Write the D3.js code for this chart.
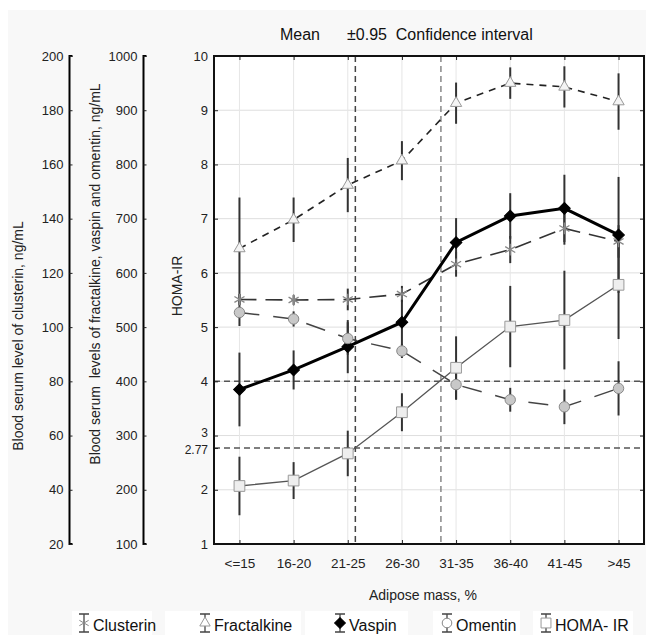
<!DOCTYPE html>
<html>
<head>
<meta charset="utf-8">
<script src="https://cdn.jsdelivr.net/npm/d3@7"></script>
<style>
  body { margin: 0; background: #fff; }
  svg { display: block; font-family: "Liberation Sans", Arial, sans-serif; }
</style>
</head>
<body>
<svg id="chart" width="646" height="635"></svg>
<script>
// adipose mass groups
let categories = ['<=15', '16-20', '21-25', '26-30', '31-35', '36-40', '41-45', '>45'];

// means and ±0.95 CI half widths
let clusterin = [110.2, 110, 110.2, 112.2, 123.2, 128.6, 136.4, 131.6];
let clusterinCI = [2, 1.8, 4, 3, 4.6, 5, 6, 6];
let fractalkine = [645, 698, 762, 807, 913, 950, 943, 916];
let fractalkineCI = [94, 41, 50, 36, 38, 29, 38, 52];
let vaspin = [385, 421, 464, 509, 656, 705, 719, 670];
let vaspinCI = [68, 36, 49, 42, 45, 42, 62, 107];
let omentin = [527, 515, 479, 456, 394, 366, 353, 387];
let omentinCI = [25, 14, 30, 13, 28, 22, 32, 50];
let homa = [2.07, 2.17, 2.67, 3.43, 4.25, 5.01, 5.13, 5.78];
let homaCI = [0.54, 0.34, 0.42, 0.35, 0.58, 0.75, 0.91, 1.0];

// reference lines (HOMA-IR level, position in category steps)
let refHoma = [4, 2.77];
let refCuts = [2.14, 3.72];

let clusterinTicks = [20, 40, 60, 80, 100, 120, 140, 160, 180, 200];
let concTicks = [100, 200, 300, 400, 500, 600, 700, 800, 900, 1000];
let homaTicks = [1, 2, 2.77, 3, 4, 5, 6, 7, 8, 9, 10];

let svg = d3.select('#chart');

let plot = {l: 214, r: 644, t: 56, b: 544};

let x = d3.scalePoint()
    .domain(categories)
    .range([plot.l, plot.r])
    .padding(0.47);

let yHoma = d3.scaleLinear().domain([1, 10]).range([plot.b, plot.t]);
let yClu = d3.scaleLinear().domain([20, 200]).range([plot.b, plot.t]);
let yConc = d3.scaleLinear().domain([100, 1000]).range([plot.b, plot.t]);

// backdrop
svg.append('rect').attr('x', 8).attr('y', 10).attr('width', 638).attr('height', 625).attr('fill', '#f8f8f8');
svg.append('rect')
    .attr('x', plot.l).attr('y', plot.t)
    .attr('width', plot.r - plot.l).attr('height', plot.b - plot.t)
    .attr('fill', '#fff');

// grid
svg.append('g')
    .selectAll('line')
    .data(d3.range(2, 10))
    .join('line')
    .attr('x1', plot.l).attr('x2', plot.r)
    .attr('y1', d => yHoma(d)).attr('y2', d => yHoma(d))
    .attr('stroke', '#dedede');
svg.append('g')
    .selectAll('line')
    .data(categories)
    .join('line')
    .attr('x1', d => x(d)).attr('x2', d => x(d))
    .attr('y1', plot.t).attr('y2', plot.b)
    .attr('stroke', '#e6e6e6');

// reference lines
svg.append('g')
    .selectAll('line')
    .data(refHoma)
    .join('line')
    .attr('x1', plot.l).attr('x2', plot.r)
    .attr('y1', d => yHoma(d)).attr('y2', d => yHoma(d))
    .attr('stroke', '#555').attr('stroke-width', 1.5)
    .attr('stroke-dasharray', '6,4');
svg.append('g')
    .selectAll('line')
    .data(refCuts)
    .join('line')
    .attr('x1', d => x(categories[0]) + d * x.step())
    .attr('x2', d => x(categories[0]) + d * x.step())
    .attr('y1', plot.t).attr('y2', plot.b)
    .attr('stroke', d => d < 3 ? '#444' : '#888').attr('stroke-width', 1.5)
    .attr('stroke-dasharray', '6,4');

// series
let series = [
    {name: 'Clusterin', mean: clusterin, ci: clusterinCI, y: yClu, marker: 'star',
     line: '#333', width: 1.6, dash: '17,9', fill: 'none', stroke: '#888'},
    {name: 'Fractalkine', mean: fractalkine, ci: fractalkineCI, y: yConc, marker: 'triangle',
     line: '#222', width: 1.6, dash: '7,6', fill: '#f4f4f4', stroke: '#999'},
    {name: 'Vaspin', mean: vaspin, ci: vaspinCI, y: yConc, marker: 'diamond',
     line: '#000', width: 3, dash: null, fill: '#000', stroke: '#000'},
    {name: 'Omentin', mean: omentin, ci: omentinCI, y: yConc, marker: 'circle',
     line: '#444', width: 1.5, dash: '20,14', fill: '#c8c8c8', stroke: '#888'},
    {name: 'HOMA- IR', mean: homa, ci: homaCI, y: yHoma, marker: 'square',
     line: '#555', width: 1.3, dash: null, fill: '#eee', stroke: '#999'}
];

let symbolType = {
    star: d3.symbolAsterisk, triangle: d3.symbolTriangle, diamond: d3.symbolSquare,
    circle: d3.symbolCircle, square: d3.symbolSquare
};
let symbolSize = {star: 95, triangle: 55, diamond: 68, circle: 85, square: 115};
let rot = m => m == 'diamond' ? ' rotate(45)' : '';

// error bars first
series.forEach(s => {
    svg.append('g')
        .selectAll('line')
        .data(s.mean)
        .join('line')
        .attr('x1', (d, i) => x(categories[i])).attr('x2', (d, i) => x(categories[i]))
        .attr('y1', (d, i) => s.y(d + s.ci[i]))
        .attr('y2', (d, i) => s.y(d - s.ci[i]))
        .attr('stroke', '#333').attr('stroke-width', 2);
});

let line = d3.line();
series.forEach(s => {
    svg.append('path')
        .attr('d', line(s.mean.map((d, i) => [x(categories[i]), s.y(d)])))
        .attr('fill', 'none')
        .attr('stroke', s.line)
        .attr('stroke-width', s.width)
        .attr('stroke-dasharray', s.dash);
});

series.forEach(s => {
    svg.append('g')
        .selectAll('path')
        .data(s.mean)
        .join('path')
        .attr('transform', (d, i) => `translate(${x(categories[i])},${s.y(d)})` + rot(s.marker))
        .attr('d', d3.symbol(symbolType[s.marker], symbolSize[s.marker]))
        .attr('fill', s.fill)
        .attr('stroke', s.stroke)
        .attr('stroke-width', s.marker == 'star' ? 1.3 : 1);
});

// axes
let fmt = d => d == 2.77 ? '2.77' : d;

svg.append('g')
    .attr('transform', `translate(69.5,0)`)
    .call(d3.axisLeft(yClu).tickValues(clusterinTicks).tickFormat(d3.format('d')).tickSize(-3).tickPadding(6))
    .call(g => g.select('.domain').attr('stroke-width', 2).attr('d', `M3,${plot.t}H0V${plot.b}H3`));

svg.append('g')
    .attr('transform', `translate(143.5,0)`)
    .call(d3.axisLeft(yConc).tickValues(concTicks).tickFormat(d3.format('d')).tickSize(-3).tickPadding(6))
    .call(g => g.select('.domain').attr('stroke-width', 2).attr('d', `M3,${plot.t}H0V${plot.b}H3`));

svg.append('g')
    .attr('class', 'homa')
    .attr('transform', `translate(${plot.l},0)`)
    .call(d3.axisLeft(yHoma).tickValues(homaTicks).tickFormat(fmt).tickSize(-4).tickPadding(6))
    .call(g => g.select('.domain').remove());

svg.append('g')
    .attr('class', 'xaxis')
    .attr('transform', `translate(0,${plot.b})`)
    .call(d3.axisBottom(x).tickSize(-4).tickPadding(14))
    .call(g => g.select('.domain').remove());

svg.append('g')
    .attr('transform', `translate(0,${plot.t})`)
    .call(d3.axisTop(x).tickSize(-4).tickFormat(''))
    .call(g => g.select('.domain').remove());

svg.append('g')
    .attr('transform', `translate(${plot.r},0)`)
    .call(d3.axisRight(yHoma).tickValues(d3.range(1, 11)).tickSize(-4).tickFormat(''))
    .call(g => g.select('.domain').remove());

svg.selectAll('.tick text').attr('font-size', 13).attr('fill', '#222')
    .attr('font-family', '"Liberation Sans", Arial, sans-serif');
svg.selectAll('.xaxis .tick text').attr('font-size', 13.5);
svg.selectAll('.tick line').attr('stroke', '#222');

// squeeze the "3" and "2.77" labels apart like the original
svg.selectAll('.homa .tick text')
    .filter(d => d == 3).attr('dy', '0.1em').attr('font-size', 12);
svg.selectAll('.homa .tick text')
    .filter(d => d == 2.77).attr('dy', '0.45em').attr('font-size', 12);

// frame
svg.append('rect')
    .attr('x', plot.l).attr('y', plot.t)
    .attr('width', plot.r - plot.l).attr('height', plot.b - plot.t)
    .attr('fill', 'none').attr('stroke', '#111').attr('stroke-width', 2);

// axis titles
svg.append('text')
    .attr('transform', 'translate(23,336) rotate(-90)')
    .attr('text-anchor', 'middle').attr('font-size', 14).attr('fill', '#222')
    .text('Blood serum level of clusterin, ng/mL');
svg.append('text')
    .attr('transform', 'translate(100,274) rotate(-90)')
    .attr('text-anchor', 'middle').attr('font-size', 14).attr('fill', '#222')
    .attr('xml:space', 'preserve')
    .text('Blood serum  levels of fractalkine, vaspin and omentin, ng/mL');
svg.append('text')
    .attr('transform', 'translate(182,286) rotate(-90)')
    .attr('text-anchor', 'middle').attr('font-size', 14).attr('fill', '#222')
    .text('HOMA-IR');
svg.append('text')
    .attr('x', 423).attr('y', 600)
    .attr('text-anchor', 'middle').attr('font-size', 14).attr('fill', '#222')
    .text('Adipose mass, %');

// title
svg.append('text')
    .attr('x', 300).attr('y', 40)
    .attr('text-anchor', 'middle').attr('font-size', 16).attr('fill', '#111')
    .text('Mean');
svg.append('text')
    .attr('x', 347).attr('y', 40)
    .attr('font-size', 16).attr('fill', '#111')
    .attr('xml:space', 'preserve')
    .text('±0.95  Confidence interval');

// legend
let legendX = [84, 205, 340, 447, 546];
let legendBox = [[-12, 80], [-40, 136], [-35, 103], [-14, 87], [-13, 100]];
let lg = svg.append('g')
    .selectAll('g')
    .data(series)
    .join('g')
    .attr('transform', (d, i) => `translate(${legendX[i]},623)`);

lg.append('rect')
    .attr('x', (d, i) => legendBox[i][0]).attr('y', -12)
    .attr('width', (d, i) => legendBox[i][1]).attr('height', 24)
    .attr('fill', '#fff');
lg.append('path')
    .attr('d', 'M0,-9V9M-5,-9H5M-5,9H5')
    .attr('stroke', '#444').attr('stroke-width', 1.3);
lg.append('path')
    .attr('transform', d => rot(d.marker))
    .attr('d', d => d3.symbol(symbolType[d.marker], symbolSize[d.marker] * 0.85)())
    .attr('fill', d => d.marker == 'diamond' ? '#000' : (d.marker == 'star' ? 'none' : '#fff'))
    .attr('stroke', d => d.stroke);
lg.append('text')
    .attr('x', 9).attr('y', 8)
    .attr('font-size', 16).attr('fill', '#111')
    .text(d => d.name);
</script>
</body>
</html>
